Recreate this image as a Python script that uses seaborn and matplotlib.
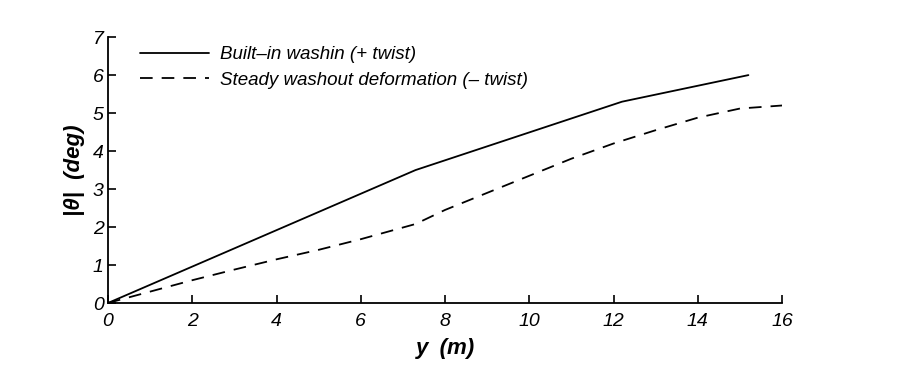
import pandas as pd
import seaborn as sns
import matplotlib.pyplot as plt

# span position y (m) and twist angle |theta| (deg)
washin_y = [0, 7.3, 12.2, 15.2]
washin_theta = [0, 3.5, 5.3, 6.0]

washout_y = [0, 1, 2, 3, 4, 5, 6, 7.3, 8, 9, 10, 11, 12, 13, 14, 15, 16]
washout_theta = [0, 0.3, 0.6, 0.88, 1.15, 1.4, 1.68, 2.08, 2.45, 2.9, 3.35, 3.8, 4.2, 4.55, 4.88, 5.12, 5.2]

labels = ["Built\u2013in washin (+ twist)", "Steady washout deformation (\u2013 twist)"]

df = pd.concat([
    pd.DataFrame({"y": washin_y, "theta": washin_theta, "case": labels[0]}),
    pd.DataFrame({"y": washout_y, "theta": washout_theta, "case": labels[1]}),
])

sns.set_style("ticks", {"text.color": "black", "axes.labelcolor": "black",
                        "xtick.color": "black", "ytick.color": "black",
                        "axes.edgecolor": "black",
                        "xtick.direction": "in", "ytick.direction": "in"})
plt.rcParams['font.family'] = ['Liberation Sans', 'DejaVu Sans']

fig = plt.figure(figsize=(9, 3.75), dpi=100)
ax = fig.add_axes([0.12, 0.192, 0.749, 0.709])

sns.lineplot(data=df, x="y", y="theta", style="case", color="black",
             dashes={labels[0]: "", labels[1]: (7, 5)}, linewidth=1.3,
             sort=False, ax=ax)

ax.set_xlim(0, 16)
ax.set_ylim(0, 7)
ax.set_xticks(range(0, 17, 2))
ax.set_yticks(range(0, 8))
ax.tick_params(axis="both", direction="in", length=6, width=1.2, labelsize=14,
               colors="black")
ax.tick_params(axis="x", pad=7)
ax.tick_params(axis="y", pad=3)
for lab in ax.get_xticklabels() + ax.get_yticklabels():
    lab.set_style("italic")
sns.despine(ax=ax)
for s in ["left", "bottom"]:
    ax.spines[s].set_linewidth(1.3)

ax.set_xlabel("y  (m)", fontsize=16, fontweight="bold", style="italic", labelpad=6)
ax.set_ylabel("|\u03b8|  (deg)", fontsize=16, fontweight="bold", style="italic", labelpad=6)

leg = ax.legend(loc="upper left", bbox_to_anchor=(0.022, 1.03), frameon=False,
                handlelength=3.7, handletextpad=0.6, labelspacing=0.45,
                prop={"size": 13.5, "style": "italic"})

fig.savefig("out.png", dpi=100)
